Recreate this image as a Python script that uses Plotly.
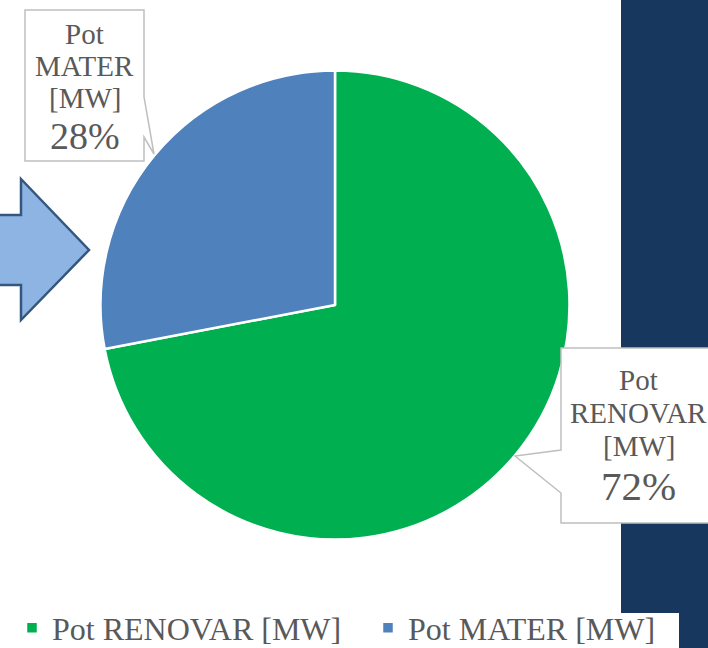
import plotly.graph_objects as go

# Data
categories = ["Pot RENOVAR [MW]", "Pot MATER [MW]"]
values = [72, 28]
colors = ["#00B050", "#4F81BD"]
callout_lines = {"RENOVAR": ["Pot", "RENOVAR", "[MW]"], "MATER": ["Pot", "MATER", "[MW]"]}

W, H = 708, 648
FONT = "'Liberation Serif', 'DejaVu Serif', serif"
GREY = "#595959"


def px(x):
    return x / W


def py(y):
    return 1 - y / H


def path(points):
    s = "M " + " L ".join(f"{px(x):.5f},{py(y):.5f}" for x, y in points) + " Z"
    return s


fig = go.Figure()
cx, cy, r = 335, 305, 234.5
fig.add_trace(go.Pie(
    labels=categories, values=values, sort=False, direction="clockwise", rotation=0,
    marker=dict(colors=colors, line=dict(color="white", width=2.5)),
    textinfo="none", hoverinfo="label+percent",
    domain=dict(x=[px(cx - r), px(cx + r)], y=[py(cy + r), py(cy - r)]),
))

shapes = []
# navy background panel
shapes.append(dict(type="path", xref="paper", yref="paper", layer="below",
                   path=path([(621, -2), (712, -2), (712, 652), (679, 652), (679, 613), (621, 613)]),
                   fillcolor="#17375E", line=dict(width=0)))
# blue arrow
shapes.append(dict(type="path", xref="paper", yref="paper", layer="above",
                   path=path([(-6, 215), (21, 215), (21, 179), (89, 250), (21, 320), (21, 285), (-6, 285)]),
                   fillcolor="#8EB4E3", line=dict(color="#34577F", width=2.5)))
# callout MATER
shapes.append(dict(type="path", xref="paper", yref="paper", layer="above",
                   path=path([(25, 10), (144, 10), (144, 97), (154, 154), (144, 137), (144, 161), (25, 161)]),
                   fillcolor="white", line=dict(color="#BFBFBF", width=1.5)))
# callout RENOVAR
shapes.append(dict(type="path", xref="paper", yref="paper", layer="above",
                   path=path([(561, 348), (714, 348), (714, 523), (561, 523), (561, 493), (515, 456), (561, 450)]),
                   fillcolor="white", line=dict(color="#BFBFBF", width=1.5)))

annotations = []


def add_text(txt, x, y, size):
    annotations.append(dict(text=txt, x=px(x), y=py(y), xref="paper", yref="paper",
                            xanchor="center", yanchor="middle", showarrow=False,
                            font=dict(family=FONT, size=size, color=GREY)))


pct = [round(v / sum(values) * 100) for v in values]
for t, y in zip(callout_lines["MATER"], [34, 66, 98]):
    add_text(t, 84.5, y, 29)
add_text(f"{pct[1]}%", 84.5, 136, 38)
for t, y in zip(callout_lines["RENOVAR"], [380, 413, 446]):
    add_text(t, 638.5, y, 29)
add_text(f"{pct[0]}%", 638.5, 486, 41)

fig.update_layout(
    width=W, height=H, margin=dict(l=0, r=0, t=0, b=0, autoexpand=False),
    paper_bgcolor="white", plot_bgcolor="white",
    font=dict(family=FONT, color=GREY),
    shapes=shapes, annotations=annotations,
    showlegend=True,
    legend=dict(orientation="h",
                x=px(12), xanchor="left", y=py(628), yanchor="middle",
                font=dict(family=FONT, size=32, color=GREY), bgcolor="rgba(0,0,0,0)",
                entrywidthmode="pixels", entrywidth=311,
                traceorder="normal"),
)

fig.write_html("out.html", config={"displayModeBar": False},
               post_script="document.body.style.margin='0';document.body.style.padding='0';")
